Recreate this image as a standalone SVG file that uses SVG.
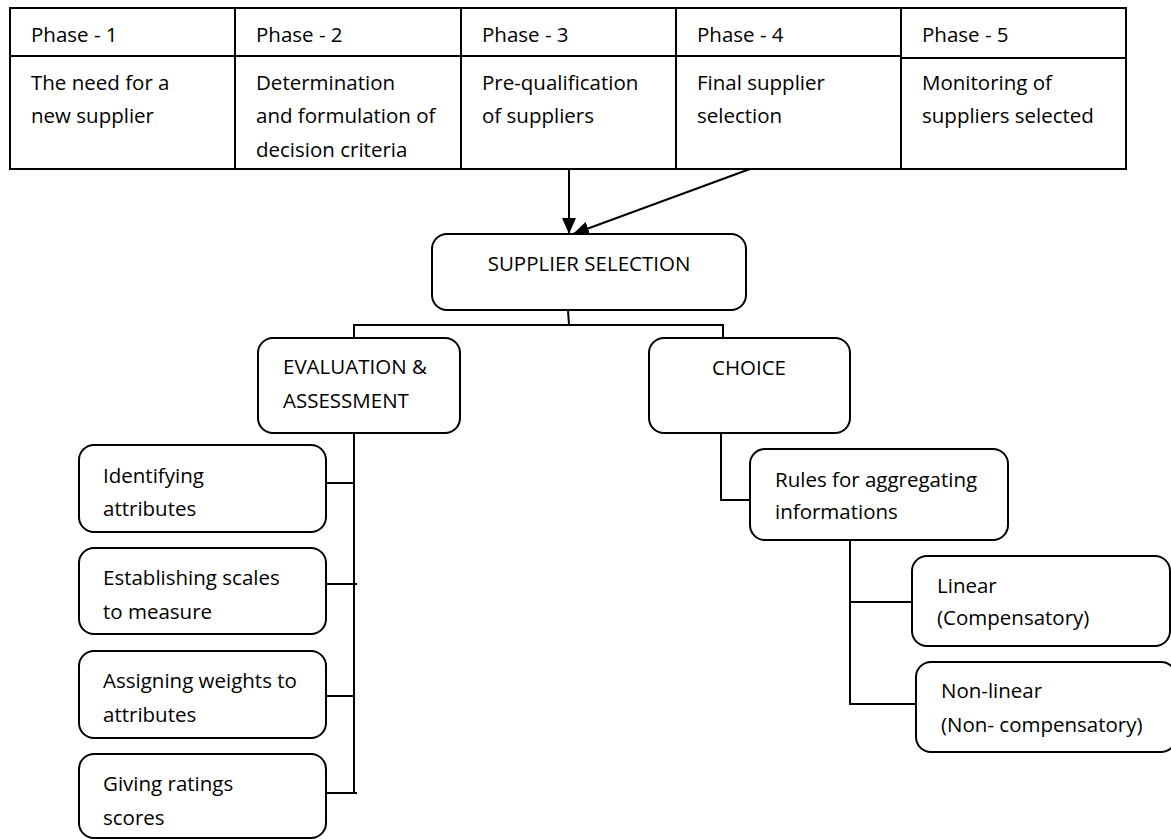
<svg xmlns="http://www.w3.org/2000/svg" width="1171" height="839" viewBox="0 0 1171 839">
  <style>
    text { font-family: "Open Sans", "Liberation Sans", sans-serif; font-size: 20.5px; fill: #000; }
    .grid { stroke: #000; stroke-width: 2; fill: none; }
    .box { fill: #fff; stroke: #000; stroke-width: 2; }
    .wire { stroke: #000; stroke-width: 2; fill: none; }
    .mid { text-anchor: middle; }
  </style>
  <defs>
    <marker id="arrow" markerUnits="userSpaceOnUse" viewBox="0 0 16 14" markerWidth="16" markerHeight="14" refX="16" refY="7" orient="auto">
      <path d="M0,0 L16,7 L0,14 z" fill="#000"/>
    </marker>
  </defs>
  <rect width="1171" height="839" fill="#fff"/>

  <!-- phase table -->
  <g id="table-grid" class="grid">
    <rect x="10" y="8" width="1116" height="161"/>
    <line x1="235" y1="8" x2="235" y2="169"/>
    <line x1="461" y1="8" x2="461" y2="169"/>
    <line x1="676" y1="8" x2="676" y2="169"/>
    <line x1="901" y1="8" x2="901" y2="169"/>
    <line x1="10" y1="56" x2="901" y2="56"/>
    <line x1="901" y1="58" x2="1126" y2="58"/>
  </g>
  <g id="phase-1">
    <text x="31" y="42">Phase - 1</text>
    <text x="31" y="89.5">The need for a</text>
    <text x="31" y="123">new supplier</text>
  </g>
  <g id="phase-2">
    <text x="256" y="42">Phase - 2</text>
    <text x="256" y="89.5">Determination</text>
    <text x="256" y="123">and formulation of</text>
    <text x="256" y="156.5">decision criteria</text>
  </g>
  <g id="phase-3">
    <text x="482" y="42">Phase - 3</text>
    <text x="482" y="89.5">Pre-qualification</text>
    <text x="482" y="123">of suppliers</text>
  </g>
  <g id="phase-4">
    <text x="697" y="42">Phase - 4</text>
    <text x="697" y="89.5">Final supplier</text>
    <text x="697" y="123">selection</text>
  </g>
  <g id="phase-5">
    <text x="922" y="42">Phase - 5</text>
    <text x="922" y="89.5">Monitoring of</text>
    <text x="922" y="123">suppliers selected</text>
  </g>

  <!-- connectors -->
  <g id="connectors" class="wire">
    <line x1="569" y1="169" x2="569" y2="234" marker-end="url(#arrow)"/>
    <line x1="750" y1="169" x2="573" y2="234" marker-end="url(#arrow)"/>
    <polyline points="568,310 569,325"/>
    <polyline points="354,338 354,325 723,325 723,338"/>
    <polyline points="354,433 354,793"/>
    <line x1="326" y1="483" x2="354" y2="483"/>
    <line x1="326" y1="584" x2="357" y2="584"/>
    <line x1="326" y1="696" x2="354" y2="696"/>
    <line x1="326" y1="793" x2="357" y2="793"/>
    <polyline points="721,433 721,500 750,500"/>
    <polyline points="850,540 850,705"/>
    <line x1="850" y1="602" x2="912" y2="602"/>
    <line x1="850" y1="704" x2="916" y2="704"/>
  </g>

  <!-- hierarchy nodes -->
  <g id="supplier-selection">
    <rect class="box" x="432" y="234" width="314" height="76" rx="15"/>
    <text class="mid" x="589" y="271">SUPPLIER SELECTION</text>
  </g>
  <g id="evaluation">
    <rect class="box" x="258" y="338" width="202" height="95" rx="15"/>
    <text x="283" y="374">EVALUATION &amp;</text>
    <text x="283" y="408">ASSESSMENT</text>
  </g>
  <g id="choice">
    <rect class="box" x="649" y="338" width="201" height="95" rx="15"/>
    <text class="mid" x="749" y="375">CHOICE</text>
  </g>
  <g id="identifying">
    <rect class="box" x="79" y="445" width="247" height="87" rx="15"/>
    <text x="103" y="483">Identifying</text>
    <text x="103" y="516">attributes</text>
  </g>
  <g id="scales">
    <rect class="box" x="79" y="548" width="247" height="86" rx="15"/>
    <text x="103" y="585">Establishing scales</text>
    <text x="103" y="619">to measure</text>
  </g>
  <g id="weights">
    <rect class="box" x="79" y="651" width="247" height="87" rx="15"/>
    <text x="103" y="688">Assigning weights to</text>
    <text x="103" y="722">attributes</text>
  </g>
  <g id="ratings">
    <rect class="box" x="79" y="754" width="247" height="84" rx="15"/>
    <text x="103" y="791">Giving ratings</text>
    <text x="103" y="825">scores</text>
  </g>
  <g id="rules">
    <rect class="box" x="750" y="449" width="258" height="91" rx="15"/>
    <text x="775" y="487">Rules for aggregating</text>
    <text x="775" y="519">informations</text>
  </g>
  <g id="linear">
    <rect class="box" x="912" y="556" width="258" height="90" rx="15"/>
    <text x="937" y="593">Linear</text>
    <text x="937" y="625">(Compensatory)</text>
  </g>
  <g id="non-linear">
    <rect class="box" x="916" y="662" width="260" height="90" rx="15"/>
    <text x="941" y="698">Non-linear</text>
    <text x="941" y="732">(Non- compensatory)</text>
  </g>
</svg>
